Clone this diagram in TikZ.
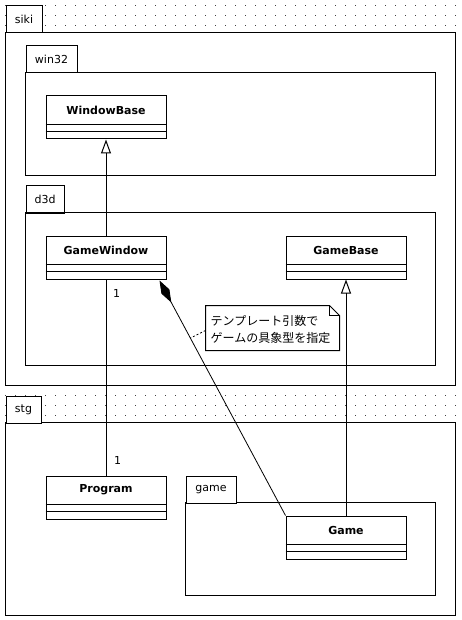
\documentclass[tikz,border=0pt]{standalone}
\usepackage{fontspec}
\setmainfont{DejaVu Sans}
\newfontfamily\jp{Noto Sans CJK JP}
\usetikzlibrary{arrows.meta}
\begin{document}
\begin{tikzpicture}[x=1pt,y=-1pt,
  every node/.style={font=\fontsize{11}{13}\selectfont},
  frame/.style={draw,fill=white,line width=1pt},
  tabbox/.style={draw,fill=white,line width=1pt,minimum height=27pt,inner sep=0pt,anchor=north west},
  cls/.style={draw,fill=white,line width=1pt,minimum width=120pt,minimum height=43pt,inner sep=0pt,anchor=north west},
  clsname/.style={font=\bfseries\fontsize{11}{13}\selectfont,inner sep=0pt},
  gen/.style={line width=1pt,-{Triangle[open,length=14pt,width=10pt]}},
  assoc/.style={line width=1pt},
  comp/.style={line width=0.8pt,{Diamond[fill=black,length=25pt,width=9pt]}-},
  mult/.style={inner sep=0pt}
]
\useasboundingbox (0,0) rectangle (462,620);
\fill[white] (0,0) rectangle (462,620);
\begin{scope}[shift={(0.5,0.5)}]
% dotted background
\foreach \x in {5,15,...,455} \foreach \y in {5,15,...,615} \fill[black!75] (\x-0.5,\y-0.5) rectangle +(1,1);
% siki
\draw[frame] (5,32) rectangle (455,385);
\node[tabbox,minimum width=36pt] (sikitab) at (5,5) {};
\node at (sikitab.center) {siki};
% win32
\draw[frame] (25,72) rectangle (435,175);
\node[tabbox,minimum width=51pt] (wintab) at (25,45) {};
\node at (wintab.center) {win32};
% d3d
\draw[frame] (25,212) rectangle (435,365);
\node[tabbox,minimum width=38pt] (d3dtab) at (25,185) {};
\node at (d3dtab.center) {d3d};
% stg
\draw[frame] (5,422) rectangle (455,615);
\node[tabbox,minimum width=35pt] (stgtab) at (5,395) {};
\node at (stgtab.center) {stg};
% game
\draw[frame] (185,502) rectangle (435,595);
\node[tabbox,minimum width=50pt] (gametab) at (185,475) {};
\node at (gametab.center) {game};
% classes
\foreach \n/\t/\px/\py in {wb/WindowBase/45/95, gw/GameWindow/45/235, gb/GameBase/285/235, pr/Program/45/475, g/Game/285/515} {
  \node[cls] (\n) at (\px,\py) {};
  \node[clsname] at ([yshift=-14.5pt]\n.north) {\t};
  \draw[line width=1pt] ([yshift=-29pt]\n.north west) -- ([yshift=-29pt]\n.north east);
  \draw[line width=1pt] ([yshift=-36pt]\n.north west) -- ([yshift=-36pt]\n.north east);
}
% connectors
\draw[gen] (gw.north) -- (wb.south);
\draw[gen] (g.north) -- (gb.south);
\draw[assoc] (gw.south) -- (pr.north);
\node[mult] (m1) at (116,293) {1};
\node[mult] (m2) at (117,460) {1};
\coordinate (cs) at ([xshift=-7pt,yshift=-1pt]gw.south east);
\draw[comp] (cs) -- (g.north west);
\path (cs) -- (g.north west) coordinate[pos=0.245] (cp);
% note
\draw[line width=1pt,fill=white] (205,305) -- (329,305) -- (339,315) -- (339,350) -- (205,350) -- cycle;
\draw[line width=1pt] (329,305) -- (329,315) -- (339,315);
\node[align=left,inner sep=0pt,anchor=west,font=\jp\fontsize{12}{17}\selectfont] (note) at (210,328.5) {テンプレート引数で\\ゲームの具象型を指定};
\coordinate (nl) at (205,330);
\draw[line width=0.8pt,dash pattern=on 2pt off 2pt] (nl) -- (cp);
\end{scope}
\end{tikzpicture}
\end{document}
